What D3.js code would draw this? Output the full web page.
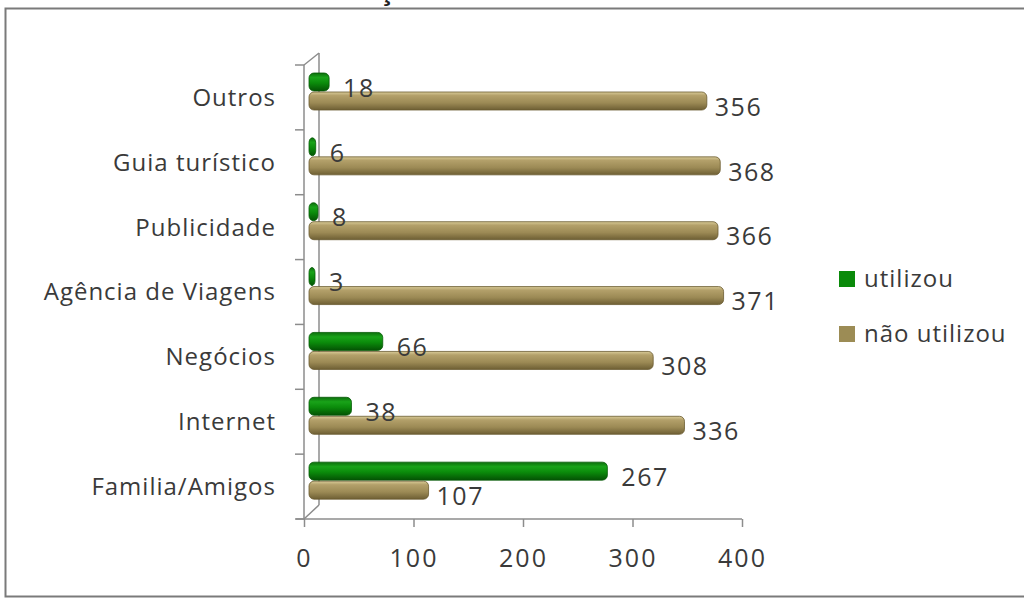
<!DOCTYPE html>
<html>
<head>
<meta charset="utf-8">
<script src="https://d3js.org/d3.v7.min.js"></script>
<style>
body { margin: 0; background: #fff; }
text { font-family: "Open Sans", Lato, sans-serif; fill: #3a3a3a; }
</style>
</head>
<body>
<div id="chart"></div>
<script>
var categories = ["Outros", "Guia turístico", "Publicidade", "Agência de Viagens", "Negócios", "Internet", "Familia/Amigos"];
var utilizou = [18, 6, 8, 3, 66, 38, 267];
var naoUtilizou = [356, 368, 366, 371, 308, 336, 107];
var seriesNames = ["utilizou", "não utilizou"];
var ticks = [0, 100, 200, 300, 400];

var w = 1024, h = 599;

var svg = d3.select('#chart').append('svg')
    .attr('width', w).attr('height', h)
    .style('display', 'block');

// caption above the frame, mostly cut off at the top edge
svg.append('text')
    .attr('x', 0).attr('y', 0)
    .style('font-family', '"Liberation Sans", Arial, sans-serif')
    .style('font-weight', 'bold').style('font-size', '29px').style('fill', '#222')
    .text('Gráfico 3: Fonte de Informações sobre o Destino');

// chart frame
svg.append('rect').attr('x', 5.5).attr('y', 8.5).attr('width', 1030).attr('height', 588)
    .attr('fill', '#fff').attr('stroke', '#7a7a7a').attr('stroke-width', 2);

var defs = svg.append('defs');
function grad(id, stops) {
  var g = defs.append('linearGradient').attr('id', id)
      .attr('x1', 0).attr('y1', 0).attr('x2', 0).attr('y2', 1);
  stops.forEach(function(s) {
    g.append('stop').attr('offset', s[0]).attr('stop-color', s[1]);
  });
}
grad('gGreen', [[0, '#0c6e0c'], [0.25, '#19a319'], [0.55, '#0b8c0b'], [1, '#045204']]);
grad('gTan', [[0, '#d9cb98'], [0.2, '#b3a06a'], [0.6, '#9c8a55'], [1, '#6e5f34']]);

var axisX = d3.scaleLinear().domain([0, 400]).range([304, 742]);
var barX = d3.scaleLinear().domain([0, 400]).range([309, 756]);
var y = d3.scaleBand().domain(categories).range([65, 519]);

var top0 = 53, back = 319, bottom = 519, front = 304;

// axes lines (3D wall edges)
var axisColor = '#8c8c8c';
svg.append('line').attr('x1', front).attr('x2', front).attr('y1', 65).attr('y2', bottom)
    .attr('stroke', axisColor).attr('stroke-width', 1.5);
svg.append('line').attr('x1', back).attr('x2', back).attr('y1', top0).attr('y2', 505)
    .attr('stroke', axisColor).attr('stroke-width', 1.5);
svg.append('line').attr('x1', front).attr('x2', back).attr('y1', 65).attr('y2', top0)
    .attr('stroke', axisColor).attr('stroke-width', 1.5);
svg.append('line').attr('x1', front).attr('x2', back).attr('y1', bottom).attr('y2', 505)
    .attr('stroke', axisColor).attr('stroke-width', 1.5);

// category ticks on left
svg.selectAll('.ctick').data(categories.concat(['end']))
  .enter().append('line')
    .attr('x1', 295).attr('x2', front)
    .attr('y1', function(d, i) { return 65 + i * y.step(); })
    .attr('y2', function(d, i) { return 65 + i * y.step(); })
    .attr('stroke', axisColor).attr('stroke-width', 1.5);

// bottom axis
var xAxis = d3.axisBottom(axisX).tickValues(ticks).tickSize(8).tickPadding(22);
var gx = svg.append('g').attr('transform', 'translate(0,' + bottom + ')').call(xAxis);
gx.select('.domain').attr('stroke', axisColor).attr('stroke-width', 1.5)
    .attr('d', 'M' + (front - 8) + ',0H742');
gx.selectAll('.tick line').attr('stroke', axisColor).attr('stroke-width', 1.5);
gx.selectAll('.tick text').style('font-size', '25px').style('letter-spacing', '2px')
    .style('fill', '#3a3a3a').style('font-family', '"Open Sans", Lato, sans-serif');

// category labels
svg.selectAll('.cat').data(categories)
  .enter().append('text')
    .attr('x', 276)
    .attr('y', function(d) { return y(d) + y.bandwidth() / 2; })
    .attr('dy', '0.35em')
    .attr('text-anchor', 'end')
    .style('font-size', '24px').style('letter-spacing', '1px')
    .text(function(d) { return d; });

var barH = 18;
var series = [
  { name: seriesNames[0], values: utilizou, off: 8, fill: 'url(#gGreen)', stroke: '#055a05', gap: 14 },
  { name: seriesNames[1], values: naoUtilizou, off: 27, fill: 'url(#gTan)', stroke: '#6a5a30', gap: 8 }
];

series.forEach(function(s) {
  svg.append('g').selectAll('rect').data(s.values)
    .enter().append('rect')
      .attr('x', barX(0))
      .attr('y', function(d, i) { return y(categories[i]) + s.off; })
      .attr('width', function(d) { return Math.max(barX(d) - barX(0), 6); })
      .attr('height', barH)
      .attr('rx', 5).attr('ry', 5)
      .attr('fill', s.fill).attr('stroke', s.stroke).attr('stroke-width', 0.8);
});

// value labels on top of the bars
series.forEach(function(s) {
  svg.append('g').selectAll('text').data(s.values)
    .enter().append('text')
      .attr('x', function(d) { return Math.max(barX(d), barX(0) + 6) + s.gap; })
      .attr('y', function(d, i) { return y(categories[i]) + s.off + barH / 2 + 6; })
      .attr('dy', '0.35em')
      .style('font-size', '25px').style('letter-spacing', '1.5px')
      .text(function(d) { return d; });
});

// legend
var legend = svg.append('g');
series.forEach(function(s, i) {
  var ly = 279 + i * 55;
  legend.append('rect').attr('x', 839).attr('y', ly - 8).attr('width', 16).attr('height', 16)
      .attr('fill', i === 0 ? '#0a8a0a' : '#9c8c55');
  legend.append('text').attr('x', 864).attr('y', ly).attr('dy', '0.35em')
      .style('font-size', '24px').style('letter-spacing', '1px').text(s.name);
});
</script>
</body>
</html>
